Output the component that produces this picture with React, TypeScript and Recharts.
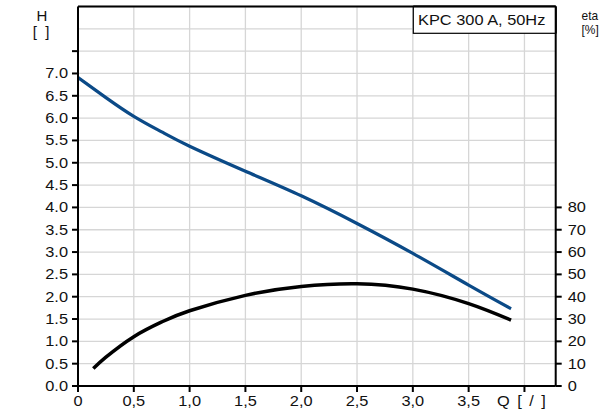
import React from "react";
import { LineChart, Line, XAxis, YAxis, CartesianGrid, ReferenceLine } from "recharts";

// pump curve KPC 300 A, 50Hz
const qHead = [0, 0.25, 0.5, 0.75, 1.0, 1.5, 2.0, 2.5, 3.0, 3.5, 3.88];
const head = [6.91, 6.46, 6.04, 5.69, 5.37, 4.81, 4.26, 3.64, 2.97, 2.26, 1.73];

const qEta = [0.137, 0.25, 0.5, 0.75, 1.0, 1.5, 2.0, 2.5, 3.0, 3.5, 3.88];
const eta = [7.8, 12.9, 22.1, 28.7, 33.7, 40.6, 44.6, 45.8, 43.4, 36.9, 29.5];

const xTicks = [0, 0.5, 1.0, 1.5, 2.0, 2.5, 3.0, 3.5, 4.0];
const xTickLabels = ["0", "0,5", "1,0", "1,5", "2,0", "2,5", "3,0", "3,5", "Q [ / ]"];

const hTicks = [0, 0.5, 1.0, 1.5, 2.0, 2.5, 3.0, 3.5, 4.0, 4.5, 5.0, 5.5, 6.0, 6.5, 7.0, 7.5, 8.0];
const hTickLabels = ["0.0", "0.5", "1.0", "1.5", "2.0", "2.5", "3.0", "3.5", "4.0", "4.5", "5.0", "5.5", "6.0", "6.5", "7.0", "", ""];

const etaTicks = [0, 10, 20, 30, 40, 50, 60, 70, 80];
const etaTickLabels = ["0", "10", "20", "30", "40", "50", "60", "70", "80"];

const headData = qHead.map((q, i) => ({ q, h: head[i] }));
const etaData = qEta.map((q, i) => ({ q, eta: eta[i] }));

const FONT = "'Liberation Sans', Arial, sans-serif";
const SX = 1.17;

const XTick = (props: any) => {
  const { x, y, payload } = props;
  const i = xTicks.indexOf(payload.value);
  const last = i === xTicks.length - 1;
  return (
    <g transform={`translate(${x},${y})`}>
      <line x1={0} x2={0} y1={0} y2={6} stroke="#000" strokeWidth={2} />
      <text
        transform={`scale(${SX},1)`}
        x={last ? -3 / SX : 0}
        y={20.5}
        textAnchor="middle"
        fontSize={14}
        fontFamily={FONT}
        fill="#111"
        wordSpacing={last ? 2.5 : 0}
      >
        {xTickLabels[i]}
      </text>
    </g>
  );
};

const HTick = (props: any) => {
  const { x, y, payload } = props;
  const i = hTicks.indexOf(payload.value);
  if (payload.value > 7.5) return <g />;
  return (
    <g transform={`translate(${x},${y})`}>
      <line x1={-6} x2={0} y1={0} y2={0} stroke="#000" strokeWidth={2} />
      <text
        transform={`scale(${SX},1)`}
        x={-10 / SX}
        y={5}
        textAnchor="end"
        fontSize={14}
        fontFamily={FONT}
        fill="#111"
      >
        {hTickLabels[i]}
      </text>
    </g>
  );
};

const EtaTick = (props: any) => {
  const { x, y, payload } = props;
  const i = etaTicks.indexOf(payload.value);
  return (
    <g transform={`translate(${x},${y})`}>
      <line x1={0} x2={6} y1={0} y2={0} stroke="#000" strokeWidth={2} />
      <text
        transform={`scale(${SX},1)`}
        x={12 / SX}
        y={5}
        textAnchor="start"
        fontSize={14}
        fontFamily={FONT}
        fill="#111"
      >
        {etaTickLabels[i]}
      </text>
    </g>
  );
};

export default function App() {
  return (
    <div style={{ position: "absolute", left: 0, top: 0, width: 616, height: 412, background: "#fff" }}>
      <LineChart width={616} height={412} margin={{ top: 6.5, right: 0, bottom: 0, left: 0 }}>
        <CartesianGrid xAxisId="q" yAxisId="h" stroke="#d6d6d6" strokeWidth={1.3} />
        <XAxis
          xAxisId="q"
          type="number"
          dataKey="q"
          domain={[0, 4.28]}
          ticks={xTicks}
          interval={0}
          allowDataOverflow
          height={26}
          tickSize={0}
          tickMargin={0}
          tickLine={false}
          axisLine={{ stroke: "#000", strokeWidth: 2 }}
          tick={<XTick />}
        />
        <YAxis
          yAxisId="h"
          domain={[0, 8.5]}
          ticks={hTicks}
          interval={0}
          allowDataOverflow
          width={78}
          tickSize={0}
          tickMargin={0}
          tickLine={false}
          axisLine={{ stroke: "#000", strokeWidth: 2 }}
          tick={<HTick />}
        />
        <YAxis
          yAxisId="eta"
          orientation="right"
          domain={[0, 170]}
          ticks={etaTicks}
          interval={0}
          allowDataOverflow
          width={60.3}
          tickSize={0}
          tickMargin={0}
          tickLine={false}
          axisLine={{ stroke: "#000", strokeWidth: 2 }}
          tick={<EtaTick />}
        />
        <ReferenceLine xAxisId="q" yAxisId="h" y={8.5} stroke="#000" strokeWidth={2} ifOverflow="extendDomain" />
        <Line
          xAxisId="q"
          yAxisId="h"
          data={headData}
          dataKey="h"
          type="natural"
          stroke="#0b4a87"
          strokeWidth={3.2}
          dot={false}
          activeDot={false}
          isAnimationActive={false}
        />
        <Line
          xAxisId="q"
          yAxisId="eta"
          data={etaData}
          dataKey="eta"
          type="natural"
          stroke="#000"
          strokeWidth={3.5}
          dot={false}
          activeDot={false}
          isAnimationActive={false}
        />
      </LineChart>
      <svg
        width={616}
        height={412}
        style={{ position: "absolute", left: 0, top: 0, pointerEvents: "none" }}
      >
        <text x={42} y={21} textAnchor="middle" fontSize={15} fontFamily={FONT} fill="#111">
          H
        </text>
        <text x={41} y={37} textAnchor="middle" fontSize={15} fontFamily={FONT} fill="#111" style={{ whiteSpace: "pre" }}>
          {"[  ]"}
        </text>
        <g transform="translate(581.5,0) scale(0.92,1)">
          <text x={0} y={20.5} fontSize={13} fontFamily={FONT} fill="#111">eta</text>
          <text x={0} y={34} fontSize={13} fontFamily={FONT} fill="#111">[%]</text>
        </g>
        <rect x={413.3} y={6.5} width={142.4} height={26.8} fill="#fff" stroke="#000" strokeWidth={1.2} />
        <line x1={413.3} x2={555.7} y1={6.5} y2={6.5} stroke="#000" strokeWidth={2} />
        <line x1={555.7} x2={555.7} y1={6.5} y2={33.3} stroke="#000" strokeWidth={2} />
        <g transform={`translate(418,25) scale(${SX},1)`}>
          <text x={0} y={0} fontSize={14} fontFamily={FONT} fill="#111">KPC 300 A, 50Hz</text>
        </g>
      </svg>
    </div>
  );
}
